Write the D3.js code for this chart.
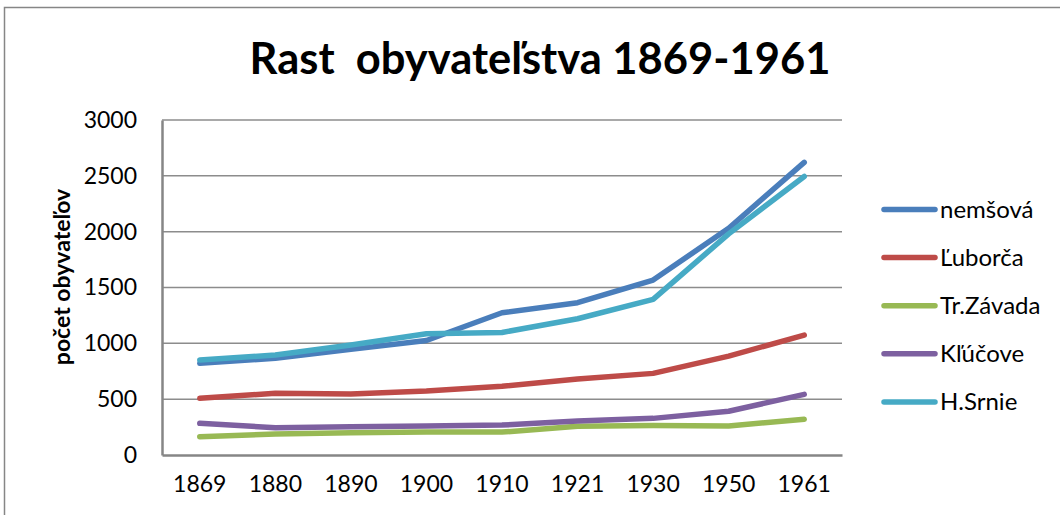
<!DOCTYPE html>
<html>
<head>
<meta charset="utf-8">
<script src="https://d3js.org/d3.v7.min.js"></script>
<style>
  body { margin: 0; background: #fff; }
  text { font-family: Lato, "Open Sans", sans-serif; fill: #000; }
</style>
</head>
<body>
<svg width="1060" height="515"></svg>
<script>
// Data
var years = ["1869", "1880", "1890", "1900", "1910", "1921", "1930", "1950", "1961"];
var yTicks = [0, 500, 1000, 1500, 2000, 2500, 3000];
var seriesNames = ["nemšová", "Ľuborča", "Tr.Závada", "Kľúčove", "H.Srnie"];
var nemsova = [821, 866, 946, 1025, 1274, 1364, 1567, 2030, 2621];
var luborca = [508, 552, 546, 573, 615, 680, 731, 886, 1074];
var trZavada = [164, 188, 200, 205, 205, 258, 265, 260, 320];
var klucove = [284, 245, 252, 260, 268, 305, 328, 392, 543];
var hSrnie = [851, 895, 985, 1085, 1097, 1220, 1394, 1980, 2494];
var colors = ["#4a7ebb", "#be4b48", "#98b954", "#7d60a0", "#46aac5"];

var series = [nemsova, luborca, trZavada, klucove, hSrnie];

var svg = d3.select("svg");

// outer chart frame
svg.append("rect")
    .attr("x", 4.5)
    .attr("y", 7.5)
    .attr("width", 1100)
    .attr("height", 600)
    .style("fill", "none")
    .style("stroke", "#868686")
    .style("stroke-width", 1.5);

// plot area (don't call it "top", window.top is taken)
var plotLeft = 162, plotRight = 842, plotTop = 120, plotBottom = 455;

var x = d3.scaleBand()
    .domain(years)
    .range([plotLeft, plotRight]);

var y = d3.scaleLinear()
    .domain([0, 3000])
    .range([plotBottom, plotTop]);

// gridlines
svg.append("g")
    .selectAll("line")
    .data(yTicks.slice(1))
    .enter()
    .append("line")
    .attr("x1", plotLeft)
    .attr("x2", plotRight)
    .attr("y1", function (d) { return y(d); })
    .attr("y2", function (d) { return y(d); })
    .style("stroke", "#8c8c8c")
    .style("stroke-width", 1.5);

// y axis
var yAxis = svg.append("g")
    .attr("transform", "translate(" + plotLeft + ",0)")
    .call(d3.axisLeft(y).tickValues(yTicks).tickFormat(d3.format("d")).tickSize(0).tickPadding(25));
yAxis.select(".domain").style("stroke", "#868686").style("stroke-width", 2.5);
yAxis.selectAll("text").style("font-size", "23px").style("font-family", "Lato, sans-serif");

// x axis
var xAxis = svg.append("g")
    .attr("transform", "translate(0," + plotBottom + ")")
    .call(d3.axisBottom(x).tickSize(0).tickPadding(21));
xAxis.select(".domain").style("stroke", "#868686").style("stroke-width", 2.5);
xAxis.selectAll("text").style("font-size", "23px").style("font-family", "Lato, sans-serif");

// the lines
var line = d3.line()
    .x(function (d, i) { return x(years[i]) + x.bandwidth() / 2; })
    .y(function (d) { return y(d); });

svg.append("g")
    .selectAll("path")
    .data(series)
    .enter()
    .append("path")
    .attr("d", function (d) { return line(d); })
    .style("fill", "none")
    .style("stroke", function (d, i) { return colors[i]; })
    .style("stroke-width", 5.5)
    .style("stroke-linecap", "round")
    .style("stroke-linejoin", "round");

// title
svg.append("text")
    .attr("x", 540)
    .attr("y", 74)
    .attr("text-anchor", "middle")
    .style("font-size", "43.5px")
    .style("font-weight", "bold")
    .style("white-space", "pre")
    .text("Rast  obyvateľstva 1869-1961");

// y axis title
svg.append("text")
    .attr("transform", "translate(70,277) rotate(-90)")
    .attr("text-anchor", "middle")
    .style("font-size", "23px")
    .style("font-weight", "bold")
    .text("počet obyvateľov");

// legend
var legend = svg.append("g")
    .selectAll("g")
    .data(seriesNames)
    .enter()
    .append("g")
    .attr("transform", function (d, i) { return "translate(0," + (209.5 + i * 48.1) + ")"; });

legend.append("line")
    .attr("x1", 884)
    .attr("x2", 935)
    .style("stroke", function (d, i) { return colors[i]; })
    .style("stroke-width", 5.5)
    .style("stroke-linecap", "round");

legend.append("text")
    .attr("x", 940)
    .attr("dy", "0.35em")
    .style("font-size", "24px")
    .text(function (d) { return d; });
</script>
</body>
</html>
